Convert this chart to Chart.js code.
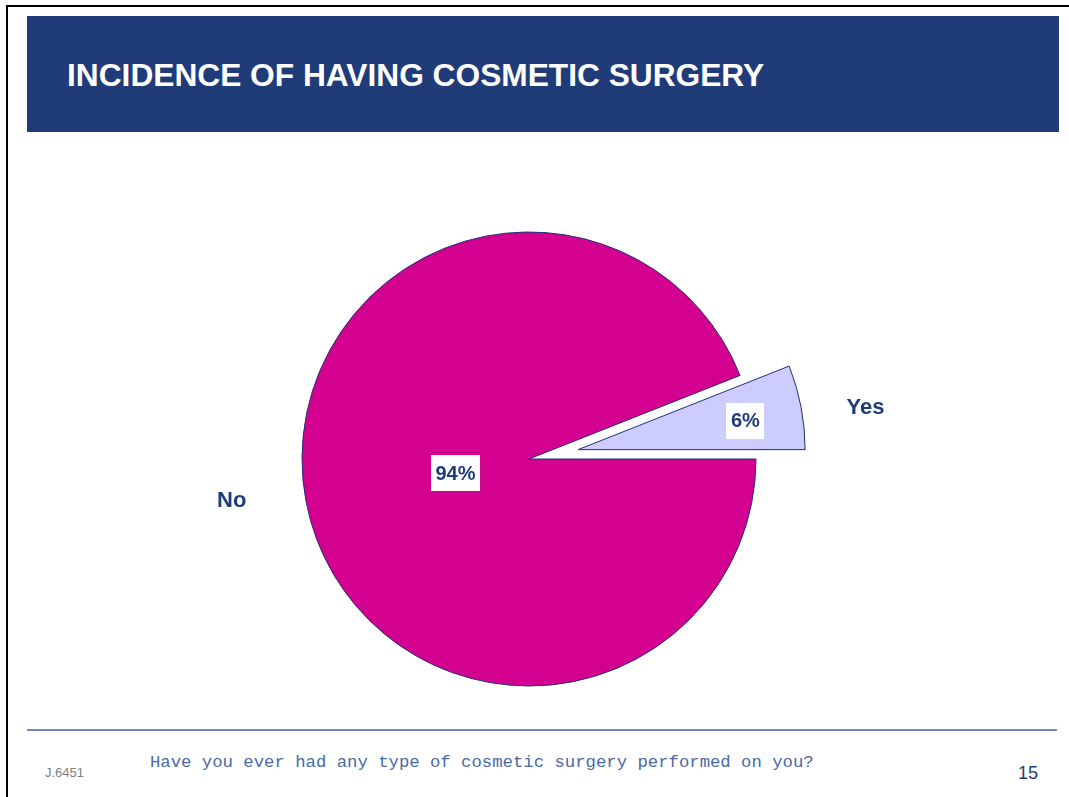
<!DOCTYPE html>
<html>
<head>
    <title>Incidence of having cosmetic surgery</title>
    <script src="https://cdn.jsdelivr.net/npm/chart.js@4/dist/chart.umd.min.js"></script>
    <style>
        body {
            margin: 0;
            width: 1069px;
            height: 797px;
            overflow: hidden;
            background: #fff;
            position: relative;
            font-family: "Liberation Sans", Arial, sans-serif;
        }

        .frame {
            position: absolute;
            left: 6px;
            top: 5px;
            right: -10px;
            bottom: -10px;
            border: 2px solid #000;
        }

        .header {
            position: absolute;
            left: 27px;
            top: 16px;
            width: 1032px;
            height: 116px;
            background: #1f3c78;
        }

        .title {
            position: absolute;
            left: 67px;
            top: 60px;
            font-size: 31.7px;
            line-height: 31.7px;
            font-weight: bold;
            color: #fff;
            white-space: nowrap;
        }

        .rule {
            position: absolute;
            left: 27px;
            top: 729px;
            width: 1030px;
            height: 2px;
            background: #7089bb;
        }

        .question {
            position: absolute;
            left: 150px;
            top: 754px;
            font-family: "Liberation Mono", "Courier New", monospace;
            font-size: 17.3px;
            line-height: 17px;
            color: #4a6aa5;
            white-space: nowrap;
        }

        .job {
            position: absolute;
            left: 45px;
            top: 766px;
            font-size: 13px;
            line-height: 13px;
            color: #808080;
        }

        .page {
            position: absolute;
            left: 1018px;
            top: 764px;
            font-size: 18px;
            line-height: 18px;
            color: #1f3c78;
        }

        #chart {
            position: absolute;
            left: 0;
            top: 0;
        }
    </style>
</head>
<body>
<div class="frame"></div>
<div class="header"></div>
<div class="title">INCIDENCE OF HAVING COSMETIC SURGERY</div>
<div class="rule"></div>
<div class="job">J.6451</div>
<div class="question">Have you ever had any type of cosmetic surgery performed on you?</div>
<div class="page">15</div>

<canvas id="chart" width="1069" height="797"></canvas>

<script>
    // data
    const categories = ['Yes', 'No'];
    const percentages = [6, 94];

    // styling per slice
    const sliceColors = ['#ccccff', '#d4008f'];
    const explode = [50, 0];            // px pulled out along the slice middle
    const valueRadius = [0.75, 0.33];   // value box distance, fraction of radius
    const valueNudge = [[0, 3], [0, 0]];
    const catRadius = [1.28, 1.32];     // category label distance
    const catNudge = [[2, 13], [-3, -14]];

    const navy = '#1f3c78';

    const total = percentages.reduce((a, b) => a + b, 0);
    // first slice ends exactly at 3 o'clock
    const startRotation = 90 - 360 * percentages[0] / total;

    const explodePlugin = {
        id: 'explode',
        afterDatasetUpdate(chart, args) {
            args.meta.data.forEach((arc, i) => {
                const d = explode[i] || 0;
                if (!d) return;
                const mid = (arc.startAngle + arc.endAngle) / 2;
                arc.x += Math.cos(mid) * d;
                arc.y += Math.sin(mid) * d;
            });
        }
    };

    const labelPlugin = {
        id: 'sliceLabels',
        afterDatasetsDraw(chart) {
            const ctx = chart.ctx;
            const meta = chart.getDatasetMeta(0);
            ctx.save();
            ctx.textAlign = 'center';
            ctx.textBaseline = 'middle';
            meta.data.forEach((arc, i) => {
                const mid = (arc.startAngle + arc.endAngle) / 2;
                const r = arc.outerRadius;

                // value in a white box
                const vx = arc.x + Math.cos(mid) * r * valueRadius[i] + valueNudge[i][0];
                const vy = arc.y + Math.sin(mid) * r * valueRadius[i] + valueNudge[i][1];
                const txt = percentages[i] + '%';
                ctx.font = 'bold 20px "Liberation Sans", Arial, sans-serif';
                const w = ctx.measureText(txt).width + 9;
                const h = 36;
                ctx.fillStyle = '#fff';
                ctx.fillRect(Math.round(vx - w / 2), Math.round(vy - h / 2), Math.round(w), h);
                ctx.fillStyle = navy;
                ctx.fillText(txt, vx, vy + 1);

                // category name outside
                const cx = arc.x + Math.cos(mid) * r * catRadius[i] + catNudge[i][0];
                const cy = arc.y + Math.sin(mid) * r * catRadius[i] + catNudge[i][1];
                ctx.font = 'bold 22px "Liberation Sans", Arial, sans-serif';
                ctx.fillText(categories[i], cx, cy);
            });
            ctx.restore();
        }
    };

    const ctx = document.getElementById('chart').getContext('2d');
    const chart = new Chart(ctx, {
        type: 'pie',
        data: {
            labels: categories,
            datasets: [{
                data: percentages,
                backgroundColor: sliceColors,
                borderColor: '#1f2f7a',
                borderWidth: 1
            }]
        },
        options: {
            responsive: false,
            animation: false,
            events: [],
            rotation: startRotation,
            radius: 227,
            layout: {
                padding: {left: 100, right: 111, top: 200, bottom: 79}
            },
            plugins: {
                legend: {display: false},
                tooltip: {enabled: false}
            }
        },
        plugins: [explodePlugin, labelPlugin]
    });
</script>
</body>
</html>
